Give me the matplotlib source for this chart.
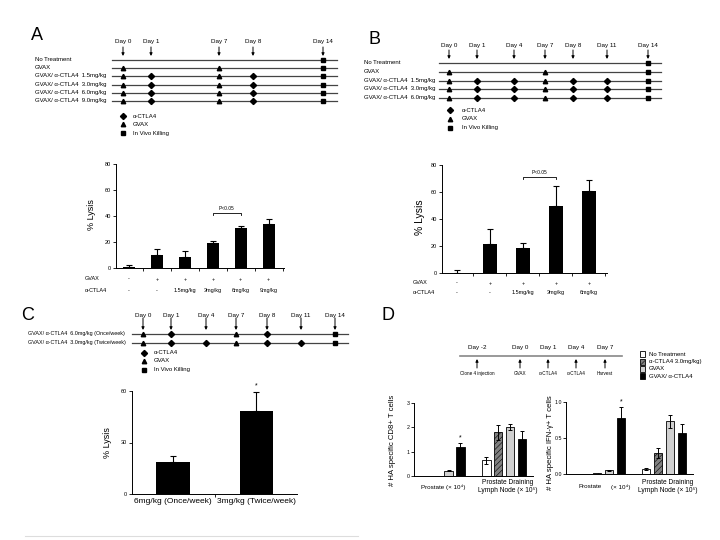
import numpy as np
import matplotlib
matplotlib.use("Agg")
import matplotlib.pyplot as plt
from matplotlib.patches import Rectangle

plt.rcParams['font.family'] = ['Liberation Sans', 'DejaVu Sans']
plt.rcParams['hatch.linewidth'] = 0.4

# ---------------- data ----------------
# schedules: t = GVAX, d = a-CTLA4, s = in vivo killing, - = nothing
A_days = ['Day 0', 'Day 1', 'Day 7', 'Day 8', 'Day 14']
A_rows = ['No Treatment', 'GVAX', 'GVAX/ α-CTLA4  1.5mg/kg', 'GVAX/ α-CTLA4  3.0mg/kg',
          'GVAX/ α-CTLA4  6.0mg/kg', 'GVAX/ α-CTLA4  9.0mg/kg']
A_sched = ['----s', 't-t-s', 'tdtds', 'tdtds', 'tdtds', 'tdtds']

B_days = ['Day 0', 'Day 1', 'Day 4', 'Day 7', 'Day 8', 'Day 11', 'Day 14']
B_rows = ['No Treatment', 'GVAX', 'GVAX/ α-CTLA4  1.5mg/kg', 'GVAX/ α-CTLA4  3.0mg/kg',
          'GVAX/ α-CTLA4  6.0mg/kg']
B_sched = ['------s', 't--t--s', 'tddtdds', 'tddtdds', 'tddtdds']

C_days = ['Day 0', 'Day 1', 'Day 4', 'Day 7', 'Day 8', 'Day 11', 'Day 14']
C_rows = ['GVAX/ α-CTLA4  6.0mg/kg (Once/week)', 'GVAX/ α-CTLA4  3.0mg/kg (Twice/week)']
C_sched = ['td-td-s', 'tddtdds']

legend_names = ['α-CTLA4', 'GVAX', 'In Vivo Killing']

A_gvax = ['-', '+', '+', '+', '+', '+']
A_ctla4 = ['-', '-', '1.5mg/kg', '3mg/kg', '6mg/kg', '9mg/kg']
A_lysis = [0.5, 10.2, 8.8, 19.5, 31.0, 34.2]
A_err = [2.0, 4.5, 4.5, 1.3, 1.3, 3.5]

B_gvax = ['-', '+', '+', '+', '+']
B_ctla4 = ['-', '-', '1.5mg/kg', '3mg/kg', '6mg/kg']
B_lysis = [0.3, 21.3, 18.4, 50.0, 61.0]
B_err = [2.2, 11.0, 3.7, 14.7, 8.1]

C_labels = ['6mg/kg (Once/week)', '3mg/kg (Twice/week)']
C_lysis = [18.4, 48.3]
C_err = [3.5, 11.0]

D_days = ['Day -2', 'Day 0', 'Day 1', 'Day 4', 'Day 7']
D_events = ['Clone 4 injection', 'GVAX', 'α-CTLA4', 'α-CTLA4', 'Harvest']
D_groups = ['No Treatment', 'α-CTLA4 3.0mg/kg)', 'GVAX', 'GVAX/ α-CTLA4']
D_cd8_prostate = [0.0, 0.02, 0.22, 1.19]
D_cd8_prostate_err = [0.0, 0.0, 0.03, 0.16]
D_cd8_lymph = [0.65, 1.79, 2.02, 1.53]
D_cd8_lymph_err = [0.14, 0.30, 0.11, 0.31]
D_ifn_prostate = [0.0, 0.02, 0.05, 0.78]
D_ifn_prostate_err = [0.0, 0.0, 0.01, 0.15]
D_ifn_lymph = [0.07, 0.29, 0.73, 0.57]
D_ifn_lymph_err = [0.01, 0.07, 0.09, 0.12]

# ---------------- figure ----------------
W, H = 720, 540
fig = plt.figure(figsize=(7.2, 5.4), dpi=100)
bg = fig.add_axes([0, 0, 1, 1])
bg.set_xlim(0, W)
bg.set_ylim(H, 0)
bg.axis('off')


def px_axes(x0, y0, x1, y1):
    return fig.add_axes([x0 / W, 1 - y1 / H, (x1 - x0) / W, (y1 - y0) / H])


marks = {'d': ('D', 3.1), 't': ('^', 3.2), 's': ('s', 3.0)}
arrow = dict(arrowstyle='-|>', color='k', lw=0.7, mutation_scale=4, shrinkA=0, shrinkB=0)


def timeline(days, day_x, rows, sched, row_y, x0, x1, label_x, day_y, a0, a1, fs=4.3):
    for d, x in zip(days, day_x):
        bg.text(x, day_y, d, ha='center', va='center', fontsize=4.5)
        bg.annotate('', xy=(x, a1), xytext=(x, a0), arrowprops=arrow)
    for name, s, y in zip(rows, sched, row_y):
        bg.plot([x0, x1], [y, y], color='#444444', lw=0.9)
        bg.text(label_x, y - 0.5, name, ha='left', va='center', fontsize=fs)
        for ch, x in zip(s, day_x):
            if ch in marks:
                m, ms = marks[ch]
                bg.plot(x, y, marker=m, color='k', ms=ms, mec='k')


def sched_legend(x, tx, ys):
    for key, name, y in zip('dts', legend_names, ys):
        m, ms = marks[key]
        bg.plot(x, y, marker=m, color='k', ms=ms)
        bg.text(tx, y, name, ha='left', va='center', fontsize=4.3)


def lysis_axes(ax, vals, errs, width, ylim, yticks):
    x = np.arange(len(vals))
    ax.bar(x, vals, width=width, color='k', zorder=2)
    ax.errorbar(x, vals, yerr=[np.zeros(len(vals)), errs], fmt='none', ecolor='k',
                elinewidth=0.8, capsize=2, capthick=0.8)
    ax.set_ylim(*ylim)
    ax.set_yticks(yticks)
    ax.tick_params(axis='y', labelsize=4, length=2, width=0.6, pad=1.5)
    ax.set_xticks(x[:-1] + 0.5, [''] * (len(x) - 1))
    ax.set_xticks([len(x) - 0.5], minor=True)
    ax.tick_params(axis='x', which='both', length=2.5, width=0.6)
    for sp in ['top', 'right']:
        ax.spines[sp].set_visible(False)
    for sp in ['left', 'bottom']:
        ax.spines[sp].set_linewidth(0.7)
    ax.patch.set_alpha(0)
    return x


def table_rows(ax, x, gvax, ctla, y1, y2, label_x, py1, py2):
    tr = ax.get_xaxis_transform()
    for xi, g, c in zip(x, gvax, ctla):
        ax.text(xi, y1, g, transform=tr, ha='center', va='center', fontsize=4)
        ax.text(xi, y2, c, transform=tr, ha='center', va='center', fontsize=4)
    bg.text(label_x, py1, 'GVAX', ha='left', va='center', fontsize=4)
    bg.text(label_x, py2, 'α-CTLA4', ha='left', va='center', fontsize=4)


def bracket(ax, a, b, y, text):
    ax.plot([a, a, b, b], [y - 1, y, y, y - 1], color='k', lw=0.6)
    ax.text((a + b) / 2, y + 1.5, text, ha='center', va='bottom', fontsize=3.5)


# ---- panel letters
for lab, x, y in [('A', 37, 35), ('B', 375, 40), ('C', 28, 315), ('D', 388, 315)]:
    bg.text(x, y, lab, fontsize=13, ha='center', va='center')

# ---- A
timeline(A_days, [123, 151, 219, 253, 323], A_rows, A_sched, [60, 68, 76, 85, 93, 101],
         112, 337, 35, 42, 47, 56)
sched_legend(123, 133, [116, 124, 133])
axA = px_axes(116, 164, 284, 268)
xA = lysis_axes(axA, A_lysis, A_err, 0.43, (0, 80), [0, 20, 40, 60, 80])
axA.set_xlim(-0.47, 5.55)
bracket(axA, 3, 4, 42, 'P<0.05')
table_rows(axA, xA, A_gvax, A_ctla4, -0.106, -0.22, 85, 279, 291)
bg.text(92, 215, '% Lysis', rotation=90, ha='center', va='center', fontsize=6.5)

# ---- B
timeline(B_days, [449, 477, 514, 545, 573, 607, 648], B_rows, B_sched, [63, 72, 81, 89, 98],
         439, 661, 364, 46, 50, 59)
sched_legend(450, 462, [110, 119, 128])
axB = px_axes(442, 165, 607, 273)
xB = lysis_axes(axB, B_lysis, B_err, 0.42, (0, 80), [0, 20, 40, 60, 80])
axB.set_xlim(-0.45, 4.55)
bracket(axB, 2, 3, 71, 'P<0.05')
table_rows(axB, xB, B_gvax, B_ctla4, -0.093, -0.185, 413, 283, 293)
bg.text(420, 217, '% Lysis', rotation=90, ha='center', va='center', fontsize=7.5)

# ---- C
timeline(C_days, [143, 171, 206, 236, 267, 301, 335], C_rows, C_sched, [334, 343],
         132, 348, 28, 315, 318, 330, fs=3.9)
sched_legend(144, 154, [353, 361, 370])
axC = px_axes(132, 391, 297, 494)
xC = lysis_axes(axC, C_lysis, C_err, 0.4, (0, 60), [0, 30, 60])
axC.set_xlim(-0.49, 1.49)
axC.set_xticks([0.5], [''])
axC.set_xticks(xC, C_labels, minor=True)
axC.tick_params(axis='x', which='minor', length=0, labelsize=6, pad=3)
axC.text(1, C_lysis[1] + C_err[1] + 1.5, '*', ha='center', va='bottom', fontsize=5)
bg.text(107, 443, '% Lysis', rotation=90, ha='center', va='center', fontsize=6.5)
bg.plot([25, 358], [536, 536], color='#dddddd', lw=0.8)

# ---- D timeline
bg.plot([460, 622], [356, 356], color='#888888', lw=1.2)
for d, ev, x in zip(D_days, D_events, [477, 520, 548, 576, 605]):
    bg.text(x, 348, d, ha='center', va='center', fontsize=4.5)
    bg.annotate('', xy=(x, 359), xytext=(x, 368), arrowprops=arrow)
    bg.text(x, 373.5, ev, ha='center', va='center', fontsize=3.3)

d_face = ['white', '#808080', '#d0d0d0', 'black']
d_hatch = [None, '//////', None, None]
for name, fc, h, y in zip(D_groups, d_face, d_hatch, [354, 362, 369, 376]):
    bg.add_patch(Rectangle((640, y - 2.6), 5.2, 5.2, facecolor=fc, edgecolor='k', lw=0.6, hatch=h))
    bg.text(649, y, name, ha='left', va='center', fontsize=4.3)


def d_axes(ax, p_vals, p_err, l_vals, l_err, off, ylim, yticks, ylabels):
    xs = [np.arange(4), np.arange(4) + off]
    for x, v, e in [(xs[0], p_vals, p_err), (xs[1], l_vals, l_err)]:
        for xi, vi, ei, fc, h in zip(x, v, e, d_face, d_hatch):
            ax.bar(xi, vi, width=0.7, color=fc, edgecolor='k', lw=0.6, hatch=h, zorder=2)
            if ei > 0:
                ax.errorbar(xi, vi, yerr=ei, fmt='none', ecolor='k', elinewidth=0.7,
                            capsize=1.6, capthick=0.7, zorder=3)
    ax.set_ylim(*ylim)
    ax.set_yticks(yticks, ylabels)
    ax.tick_params(axis='y', labelsize=3.8, length=2, width=0.6, pad=1)
    ax.set_xticks([])
    for sp in ['top', 'right']:
        ax.spines[sp].set_visible(False)
    for sp in ['left', 'bottom']:
        ax.spines[sp].set_linewidth(0.7)
    ax.patch.set_alpha(0)
    return xs


axDL = px_axes(414, 403, 533, 476)
xsL = d_axes(axDL, D_cd8_prostate, D_cd8_prostate_err, D_cd8_lymph, D_cd8_lymph_err, 5.2,
             (0, 3), [0, 1, 2, 3], ['0', '1', '2', '3'])
axDL.set_xlim(-0.93, 9.15)
axDL.text(xsL[0][3], D_cd8_prostate[3] + D_cd8_prostate_err[3] + 0.08, '*', ha='center',
          va='bottom', fontsize=5)
bg.text(443, 487, 'Prostate (× 10⁴)', ha='center', va='center', fontsize=4.5)
bg.text(508, 482, 'Prostate Draining', ha='center', va='center', fontsize=4.8)
bg.text(508, 490.5, 'Lymph Node (× 10⁵)', ha='center', va='center', fontsize=4.8)
bg.text(393, 440, '# HA specific CD8+ T cells', rotation=90, ha='center', va='center', fontsize=5.6)

axDR = px_axes(566, 402, 693, 474)
xsR = d_axes(axDR, D_ifn_prostate, D_ifn_prostate_err, D_ifn_lymph, D_ifn_lymph_err, 5.08,
             (0, 1.0), [0, 0.5, 1.0], ['0.0', '0.5', '1.0'])
axDR.set_xlim(-1.58, 9.0)
axDR.text(xsR[0][3], D_ifn_prostate[3] + D_ifn_prostate_err[3] + 0.02, '*', ha='center',
          va='bottom', fontsize=5)
bg.text(590, 487, 'Prostate', ha='center', va='center', fontsize=4.5)
bg.text(621, 487, '(× 10⁴)', ha='center', va='center', fontsize=4.5)
bg.text(668, 482, 'Prostate Draining', ha='center', va='center', fontsize=4.8)
bg.text(668, 490.5, 'Lymph Node (× 10⁵)', ha='center', va='center', fontsize=4.8)
bg.text(550, 443, '# HA specific IFN-γ+ T cells', rotation=90, ha='center', va='center', fontsize=5.6)

fig.savefig('out.png', dpi=100)
